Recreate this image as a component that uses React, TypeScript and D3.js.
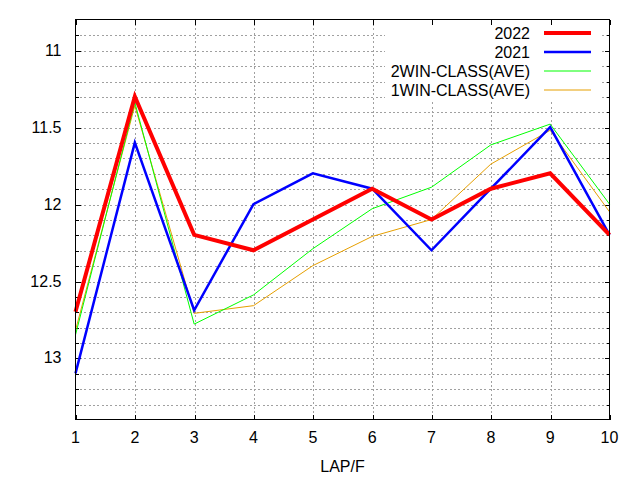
import * as d3 from "d3";

const WIDTH = 640;
const HEIGHT = 480;
const MARGIN = { top: 19.5, right: 30.5, bottom: 60.5, left: 75.5 };

const laps = [1, 2, 3, 4, 5, 6, 7, 8, 9, 10];
const yTicks = [11, 11.5, 12, 12.5, 13];

const y2022 = [12.7, 11.3, 12.2, 12.3, 12.1, 11.9, 12.1, 11.9, 11.8, 12.2];
const y2021 = [13.1, 11.6, 12.69, 12.0, 11.8, 11.9, 12.3, 11.9, 11.5, 12.2];
const y2win = [12.85, 11.34, 12.78, 12.59, 12.29, 12.03, 11.89, 11.615, 11.48, 12.0];
const y1win = [12.82, 11.36, 12.71, 12.66, 12.4, 12.21, 12.1, 11.74, 11.52, 12.05];

const seriesNames = ["2022", "2021", "2WIN-CLASS(AVE)", "1WIN-CLASS(AVE)"];
const seriesValues = [y2022, y2021, y2win, y1win];
const seriesColors = ["#ff0000", "#0000ff", "#00ff00", "#e69f00"];
const seriesWidths = [4, 2.5, 1, 1];

const FONT = "'Liberation Sans', Arial, sans-serif";

export default function App() {
    const boundsWidth = WIDTH - MARGIN.left - MARGIN.right;
    const boundsHeight = HEIGHT - MARGIN.top - MARGIN.bottom;

    const xScale = d3.scaleLinear().domain([1, 10]).range([0, boundsWidth]);
    // y axis is reversed: smaller times at the top
    const yScale = d3.scaleLinear().domain([10.8, 13.4]).range([0, boundsHeight]);

    const minorTicks = d3.range(109, 134).map((v) => v / 10);

    const line = d3
        .line<number>()
        .x((_, i) => xScale(laps[i]))
        .y((d) => yScale(d));

    const legendX = 385 - MARGIN.left;
    const legendW = 600 - 385;
    const legendH = 101 - MARGIN.top;

    return (
        <div style={{ position: "absolute", left: 0, top: 0 }}>
            <svg width={WIDTH} height={HEIGHT} style={{ display: "block", background: "#fff" }}>
                <g transform={`translate(${MARGIN.left},${MARGIN.top})`} fontFamily={FONT}>
                    {/* grid */}
                    <g stroke="#a0a0a0" strokeDasharray="2,2.35" shapeRendering="crispEdges">
                        {minorTicks.map((v, i) => (
                            <line
                                key={"gy" + i}
                                x1={0}
                                x2={boundsWidth}
                                y1={Math.round(yScale(v)) + 0.5}
                                y2={Math.round(yScale(v)) + 0.5}
                            />
                        ))}
                        {laps.slice(1, -1).map((v, i) => (
                            <line
                                key={"gx" + i}
                                x1={Math.round(xScale(v)) + 0.5}
                                x2={Math.round(xScale(v)) + 0.5}
                                y1={0}
                                y2={boundsHeight}
                            />
                        ))}
                    </g>

                    {/* legend background */}
                    <rect x={legendX} y={0.5} width={legendW} height={legendH} fill="#fff" />

                    {/* ticks */}
                    <g stroke="#000" shapeRendering="crispEdges">
                        {minorTicks.map((v, i) => {
                            const major = yTicks.some((t) => Math.abs(t - v) < 1e-6);
                            const len = major ? 5 : 3;
                            const y = Math.round(yScale(v)) + 0.5;
                            return (
                                <g key={"ty" + i}>
                                    <line x1={0} x2={len} y1={y} y2={y} />
                                    <line x1={boundsWidth - len} x2={boundsWidth} y1={y} y2={y} />
                                </g>
                            );
                        })}
                        {laps.map((v, i) => {
                            const x = Math.round(xScale(v)) + 0.5;
                            return (
                                <g key={"tx" + i}>
                                    <line x1={x} x2={x} y1={0} y2={5} />
                                    <line x1={x} x2={x} y1={boundsHeight - 5} y2={boundsHeight} />
                                </g>
                            );
                        })}
                    </g>

                    {/* series */}
                    {seriesValues
                        .map((vals, i) => (
                            <path
                                key={"s" + i}
                                d={line(vals) ?? ""}
                                fill="none"
                                stroke={seriesColors[i]}
                                strokeWidth={seriesWidths[i]}
                                strokeLinejoin="miter"
                            />
                        ))
                        .reverse()}

                    {/* border */}
                    <rect
                        x={0}
                        y={0}
                        width={boundsWidth}
                        height={boundsHeight}
                        fill="none"
                        stroke="#000"
                        strokeWidth={1}
                        shapeRendering="crispEdges"
                    />

                    {/* tick labels */}
                    {yTicks.map((v, i) => (
                        <text
                            key={"ly" + i}
                            x={-14}
                            y={yScale(v)}
                            textAnchor="end"
                            dominantBaseline="central"
                            fontSize={16}
                        >
                            {v}
                        </text>
                    ))}
                    {laps.map((v, i) => (
                        <text key={"lx" + i} x={xScale(v)} y={boundsHeight + 23.5} textAnchor="middle" fontSize={16}>
                            {v}
                        </text>
                    ))}
                    <text x={boundsWidth / 2} y={boundsHeight + 52} textAnchor="middle" fontSize={16}>
                        LAP/F
                    </text>

                    {/* legend */}
                    {seriesNames.map((name, i) => {
                        const y = 33 - MARGIN.top + i * 19;
                        return (
                            <g key={"lg" + i}>
                                <text
                                    x={530 - MARGIN.left}
                                    y={y}
                                    textAnchor="end"
                                    dominantBaseline="central"
                                    fontSize={16}
                                >
                                    {name}
                                </text>
                                <line
                                    x1={544 - MARGIN.left}
                                    x2={591 - MARGIN.left}
                                    y1={y}
                                    y2={y}
                                    stroke={seriesColors[i]}
                                    strokeWidth={seriesWidths[i]}
                                />
                            </g>
                        );
                    })}
                </g>
            </svg>
        </div>
    );
}
